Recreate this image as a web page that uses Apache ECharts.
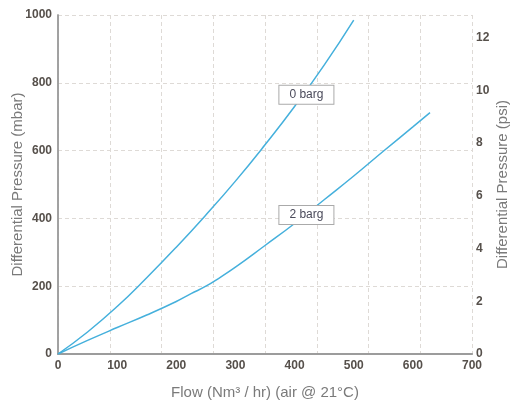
<!DOCTYPE html>
<html>
<head>
<meta charset="utf-8">
<script src="https://cdn.jsdelivr.net/npm/echarts@6/dist/echarts.min.js"></script>
<style>
  html, body { margin: 0; padding: 0; background: #fff; }
  #chart { width: 511px; height: 403px; }
</style>
</head>
<body>
<div id="chart"></div>
<script>
  // (flow Nm3/hr, dP mbar)
  const flow0 = [0, 50, 100, 150, 200, 250, 300, 350, 400, 450, 500];
  const dp0 = [0, 65, 140, 225, 315, 410, 510, 617, 730, 852, 985];
  const flow2 = [0, 50, 100, 150, 200, 225, 250, 275, 300, 350, 400, 450, 500, 550, 600, 629];
  const dp2 = [0, 40, 78, 115, 155, 178, 200, 227, 256, 320, 385, 455, 525, 598, 670, 712];

  const seriesNames = ['0 barg', '2 barg'];
  const labelFlow = [420, 420];
  const labelDp = [765, 410];

  const xName = 'Flow (Nm³ / hr) (air @ 21°C)';
  const yNameLeft = 'Differential Pressure (mbar)';
  const yNameRight = 'Differential Pressure (psi)';

  const blue = '#45b0dc';
  const frame = '#9c9c9c';
  const tickColor = '#56504b';
  const nameColor = '#7a7a7a';
  const font = '"Liberation Sans", Arial, sans-serif';
  const grid = { color: '#dedad6', type: [4, 3], width: 1 };

  const chart = echarts.init(document.getElementById('chart'));

  function pairs(xs, ys) {
    return xs.map((x, i) => [x, ys[i]]);
  }

  function boxLabel(i) {
    return {
      symbol: 'rect',
      symbolSize: 0,
      silent: true,
      label: {
        show: true,
        position: 'inside',
        formatter: seriesNames[i],
        color: '#4a4a5a',
        fontFamily: font,
        fontSize: 12,
        lineHeight: 13,
        backgroundColor: '#fff',
        borderColor: '#aaa',
        borderWidth: 1,
        padding: [3, 10, 2, 10]
      },
      data: [{ coord: [labelFlow[i], labelDp[i]] }]
    };
  }

  const tickLabel = { color: tickColor, fontWeight: 'bold', fontSize: 12, fontFamily: font };
  const nameStyle = { color: nameColor, fontSize: 15, fontFamily: font };

  chart.setOption({
    animation: false,
    grid: { left: 58, right: 39, top: 15, bottom: 49, outerBoundsMode: 'none', containLabel: false },
    xAxis: [{
      type: 'value',
      min: 0,
      max: 700,
      interval: 100,
      name: xName,
      nameLocation: 'middle',
      nameGap: 31,
      nameMoveOverlap: false,
      nameTextStyle: nameStyle,
      axisLine: { show: true, lineStyle: { color: frame, width: 1.5 } },
      axisTick: { show: false },
      splitLine: { show: false },
      axisLabel: Object.assign({ margin: 6 }, tickLabel)
    }, {
      // the printed grid has 8 vertical divisions, not matching the labels
      type: 'value',
      position: 'top',
      min: 0,
      max: 8,
      interval: 1,
      axisLine: { show: true, lineStyle: { color: frame, width: 2 } },
      axisTick: { show: false },
      axisLabel: { show: false },
      splitLine: { show: true, lineStyle: grid }
    }],
    yAxis: [{
      type: 'value',
      min: 0,
      max: 1000,
      interval: 200,
      name: yNameLeft,
      nameLocation: 'middle',
      nameGap: 33,
      nameMoveOverlap: false,
      nameTextStyle: nameStyle,
      axisLine: { show: true, lineStyle: { color: frame, width: 1.5 } },
      axisTick: { show: false },
      splitLine: { show: true, lineStyle: grid },
      axisLabel: Object.assign({ margin: 6, formatter: v => String(v) }, tickLabel)
    }, {
      type: 'value',
      position: 'right',
      min: 0,
      max: 12.86,
      interval: 2,
      name: yNameRight,
      nameLocation: 'middle',
      nameGap: 23,
      nameRotate: 90,
      nameMoveOverlap: false,
      nameTextStyle: nameStyle,
      axisLine: { show: true, lineStyle: { color: frame, width: 1.5 } },
      axisTick: { show: false },
      splitLine: { show: false },
      axisLabel: Object.assign({ margin: 4, showMaxLabel: false }, tickLabel)
    }],
    series: [{
      name: seriesNames[0],
      type: 'line',
      data: pairs(flow0, dp0),
      smooth: 0.5,
      symbol: 'none',
      lineStyle: { color: blue, width: 1.5 },
      markPoint: boxLabel(0),
      z: 3
    }, {
      name: seriesNames[1],
      type: 'line',
      data: pairs(flow2, dp2),
      smooth: 0.5,
      symbol: 'none',
      lineStyle: { color: blue, width: 1.5 },
      markPoint: boxLabel(1),
      z: 3
    }]
  });
</script>
</body>
</html>
